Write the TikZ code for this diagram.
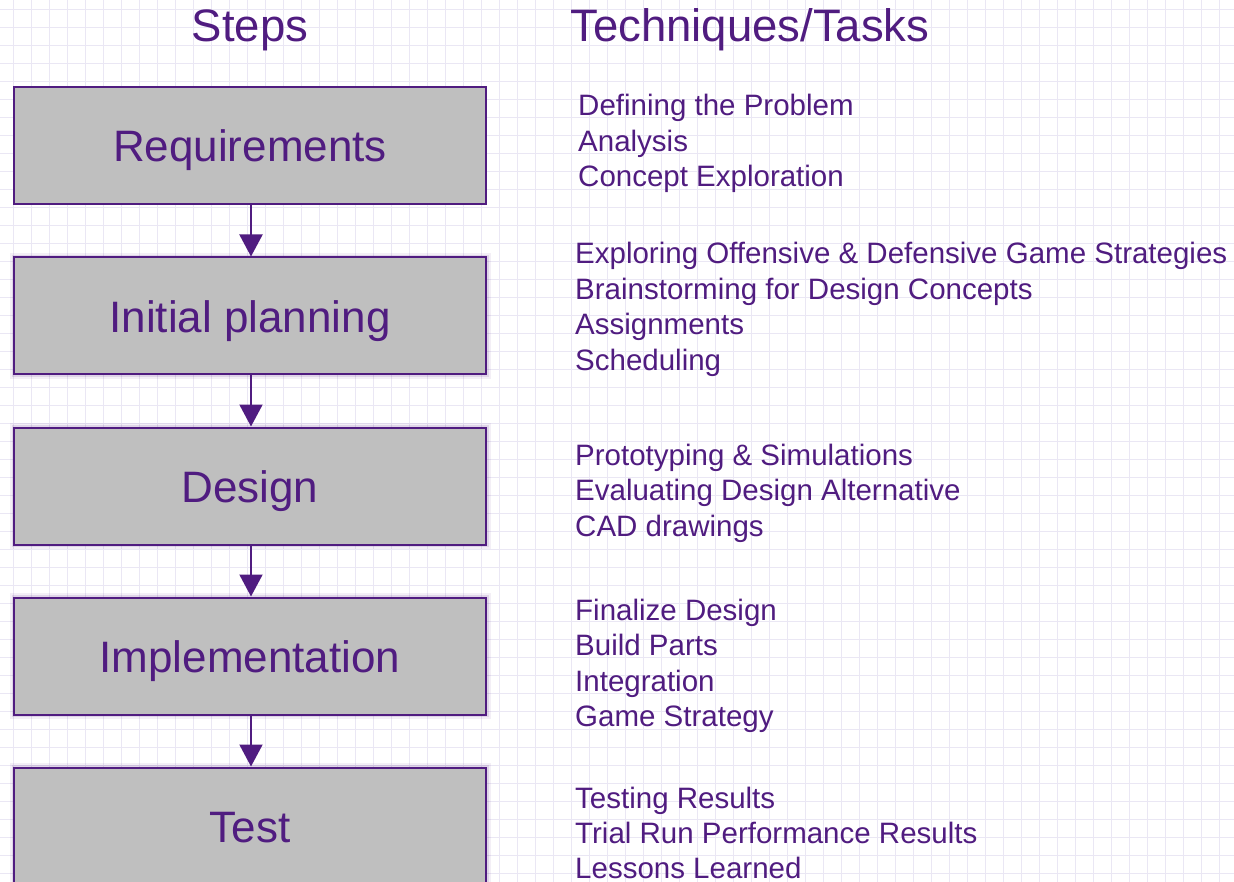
\documentclass[tikz,border=0pt]{standalone}
\usepackage{fontspec}
\setmainfont{Liberation Sans}
\usetikzlibrary{arrows.meta}
\definecolor{ink}{RGB}{80,28,128}
\definecolor{boxgray}{RGB}{191,191,191}
\definecolor{gridline}{RGB}{234,231,244}
\begin{document}
\begin{tikzpicture}[x=1pt,y=-1pt,
  gridrule/.style={draw=gridline, line width=1.4pt},
  stepbox/.style={draw=ink, line width=2pt, fill=boxgray, minimum width=472pt,
    minimum height=117pt, inner sep=0pt, text=ink,
    font=\fontsize{44}{44}\selectfont, text height=33pt, text depth=0pt},
  glow/.style={preaction={draw=ink, draw opacity=0.07, line width=9pt},
    preaction={draw=ink, draw opacity=0.12, line width=5pt}},
  flow/.style={draw=ink, line width=2pt, -{Triangle[width=23pt,length=22pt]}},
  heading/.style={text=ink, font=\fontsize{45.5}{45.5}\selectfont, inner sep=0pt},
  task/.style={text=ink, font=\fontsize{29.5}{35.5}\selectfont, inner sep=0pt, anchor=base west},
]
\useasboundingbox (0,0) rectangle (1234,882);
\clip (0,0) rectangle (1234,882);

% background grid
\foreach \gx in {0,...,68}
  \draw[gridrule] ({13.3+18*\gx},0) -- ({13.3+18*\gx},882);
\foreach \gy in {0,...,49}
  \draw[gridrule] (0,{9.3+18*\gy}) -- (1234,{9.3+18*\gy});

% column headings
\node[heading, anchor=base] (hsteps) at (250,42) {Steps};
\node[heading, anchor=base west] (htasks) at (570,42) {Techniques/Tasks};

% process steps
\node[stepbox] (b1) at (250,145.5) {Requirements};
\node[stepbox, glow] (b2) at (250,316) {Initial planning};
\node[stepbox, glow] (b3) at (250,486) {Design};
\node[stepbox, glow] (b4) at (250,656) {Implementation};
\node[stepbox, glow] (b5) at (250,826) {Test};

\draw[flow] ([xshift=1pt]b1.south) -- ([xshift=1pt]b2.north);
\draw[flow] ([xshift=1pt]b2.south) -- ([xshift=1pt]b3.north);
\draw[flow] ([xshift=1pt]b3.south) -- ([xshift=1pt]b4.north);
\draw[flow] ([xshift=1pt]b4.south) -- ([xshift=1pt]b5.north);

% techniques and tasks for each step
\node[task] (t11) at (578,116) {Defining the Problem};
\node[task] (t12) at (578,151.5) {Analysis};
\node[task] (t13) at (578,187) {Concept Exploration};

\node[task] (t21) at (575,264) {Exploring Offensive \& Defensive Game Strategies};
\node[task] (t22) at (575,299.5) {Brainstorming for Design Concepts};
\node[task] (t23) at (575,335) {Assignments};
\node[task] (t24) at (575,370.5) {Scheduling};

\node[task] (t31) at (575,465) {Prototyping \& Simulations};
\node[task] (t32) at (575,500.5) {Evaluating Design Alternative};
\node[task] (t33) at (575,536) {CAD drawings};

\node[task] (t41) at (575,620) {Finalize Design};
\node[task] (t42) at (575,655.5) {Build Parts};
\node[task] (t43) at (575,691) {Integration};
\node[task] (t44) at (575,726.5) {Game Strategy};

\node[task] (t51) at (575,808) {Testing Results};
\node[task] (t52) at (575,843) {Trial Run Performance Results};
\node[task] (t53) at (575,878) {Lessons Learned};
\end{tikzpicture}
\end{document}
